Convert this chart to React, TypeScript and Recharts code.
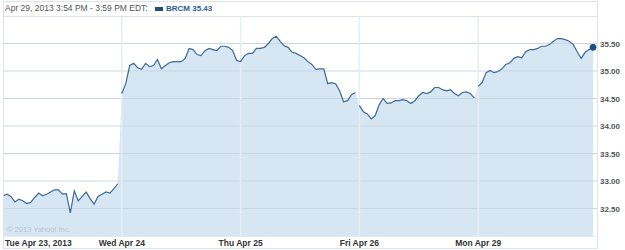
import React from 'react';
import { ComposedChart, Area, Line, XAxis, YAxis, CartesianGrid, ReferenceLine, ReferenceDot } from 'recharts';

const dayLabels = ['Tue Apr 23, 2013', 'Wed Apr 24', 'Thu Apr 25', 'Fri Apr 26', 'Mon Apr 29'];
// line segments: Wed and Thu trade continuously, other day opens gap
const segmentKeys = ['s1', 's2', 's2', 's3', 's4'];
const priceTicks = [32.5, 33.0, 33.5, 34.0, 34.5, 35.0, 35.5];

const tue = [32.73, 32.76, 32.72, 32.62, 32.67, 32.64, 32.59, 32.61, 32.70, 32.78, 32.73, 32.76, 32.80, 32.84, 32.84, 32.76, 32.77, 32.42, 32.82, 32.64, 32.72, 32.80, 32.68, 32.58, 32.72, 32.76, 32.80, 32.78, 32.86, 32.95];
const wed = [34.59, 34.77, 35.10, 35.14, 35.06, 35.03, 35.14, 35.08, 35.10, 35.21, 35.04, 35.10, 35.15, 35.17, 35.17, 35.17, 35.23, 35.41, 35.39, 35.30, 35.28, 35.37, 35.41, 35.39, 35.37, 35.45, 35.45, 35.43, 35.37, 35.19];
const thu = [35.17, 35.28, 35.32, 35.32, 35.41, 35.41, 35.43, 35.50, 35.59, 35.63, 35.54, 35.46, 35.43, 35.34, 35.32, 35.28, 35.24, 35.17, 35.12, 35.03, 35.04, 35.04, 34.77, 34.79, 34.77, 34.64, 34.44, 34.46, 34.57, 34.61];
const fri = [34.37, 34.26, 34.22, 34.13, 34.19, 34.39, 34.50, 34.41, 34.42, 34.46, 34.46, 34.48, 34.46, 34.41, 34.46, 34.55, 34.61, 34.59, 34.62, 34.70, 34.70, 34.66, 34.64, 34.66, 34.59, 34.55, 34.61, 34.62, 34.59, 34.51];
const mon = [34.72, 34.79, 34.97, 35.01, 34.97, 34.99, 35.04, 35.12, 35.15, 35.23, 35.26, 35.24, 35.35, 35.39, 35.39, 35.41, 35.45, 35.45, 35.48, 35.54, 35.59, 35.59, 35.57, 35.54, 35.48, 35.35, 35.23, 35.34, 35.39, 35.43];

const days = [tue, wed, thu, fri, mon];
const data = days.flatMap((arr, d) =>
  arr.map((price, i) => ({ t: d + i / arr.length, price, [segmentKeys[d]]: price } as Record<string, number>))
);
const last = data[data.length - 1];
const lineKeys = Array.from(new Set(segmentKeys));

const FONT = '"Liberation Sans", Arial, sans-serif';
const LINE = '#3b6a9c';

const XTick = (props: any) => {
  const { x, y, payload, index } = props;
  const first = index === 0;
  return (
    <text x={first ? x + 2 : x} y={y + 10} textAnchor={first ? 'start' : 'middle'} fontFamily={FONT} fontSize={8.5} fontWeight="bold" fill="#333">
      {dayLabels[payload.value]}
    </text>
  );
};

const YTick = (props: any) => {
  const { x, y, payload } = props;
  return (
    <text x={x + 3} y={y + 3} textAnchor="start" fontFamily={FONT} fontSize={8} fontWeight="bold" fill="#555">
      {payload.value.toFixed(2)}
    </text>
  );
};

export default function App() {
  return (
    <div style={{ position: 'absolute', left: 0, top: 0, width: 625, height: 250, background: '#fff' }}>
      <ComposedChart width={625} height={250} data={data} margin={{ top: 16, right: 0, left: 3, bottom: 0 }}>
        <CartesianGrid horizontal={false} vertical={false} />
        <XAxis dataKey="t" type="number" domain={[0, 5]} ticks={[0, 1, 2, 3, 4]} tick={<XTick />} tickLine={false} axisLine={false} tickSize={0} tickMargin={0} height={14} interval={0} />
        <YAxis orientation="right" domain={[32, 36]} ticks={priceTicks} tick={<YTick />} tickLine={false} axisLine={false} tickSize={0} tickMargin={0} width={28} interval={0} />
        <Area type="linear" dataKey="price" stroke="none" fill="#d6e6f2" fillOpacity={1} isAnimationActive={false} dot={false} activeDot={false} />
        {priceTicks.map((v) => (
          <ReferenceLine key={'h' + v} y={v} stroke="#c9d7e4" strokeWidth={1} />
        ))}
        {[1, 2, 3, 4].map((v) => (
          <ReferenceLine key={'v' + v} x={v} stroke="#e6edf4" strokeWidth={1.5} />
        ))}
        {lineKeys.map((k) => (
          <Line key={k} type="linear" dataKey={k} stroke={LINE} strokeWidth={1.2} dot={false} activeDot={false} connectNulls={false} isAnimationActive={false} />
        ))}
        <ReferenceDot x={last.t} y={last.price} r={3} fill="#1f4f7e" stroke="#1f4f7e" />
      </ComposedChart>
      <div style={{ position: 'absolute', left: 3, top: 1, width: 593, height: 246, border: '1px solid #dde3e9', pointerEvents: 'none' }} />
      <div style={{ position: 'absolute', left: 3, top: 16, width: 595, height: 1, background: '#dde3e9' }} />
      <div style={{ position: 'absolute', left: 3, top: 236, width: 595, height: 1, background: '#e4eaf0' }} />
      <div style={{ position: 'absolute', left: 5, top: 3, fontFamily: FONT, fontSize: 8.5, color: '#555', whiteSpace: 'nowrap', lineHeight: '11px' }}>
        Apr 29, 2013 3:54 PM - 3:59 PM EDT:
      </div>
      <div style={{ position: 'absolute', left: 155, top: 7, width: 8, height: 4, background: '#1f4f7e' }} />
      <div style={{ position: 'absolute', left: 166, top: 3, fontFamily: FONT, fontSize: 8, fontWeight: 'bold', color: '#2a5d94', whiteSpace: 'nowrap', lineHeight: '11px' }}>
        BRCM 35.43
      </div>
      <div style={{ position: 'absolute', left: 7, top: 225, fontFamily: FONT, fontSize: 7.5, color: '#b3c6d8', whiteSpace: 'nowrap', lineHeight: '10px' }}>
        © 2013 Yahoo! Inc.
      </div>
    </div>
  );
}
